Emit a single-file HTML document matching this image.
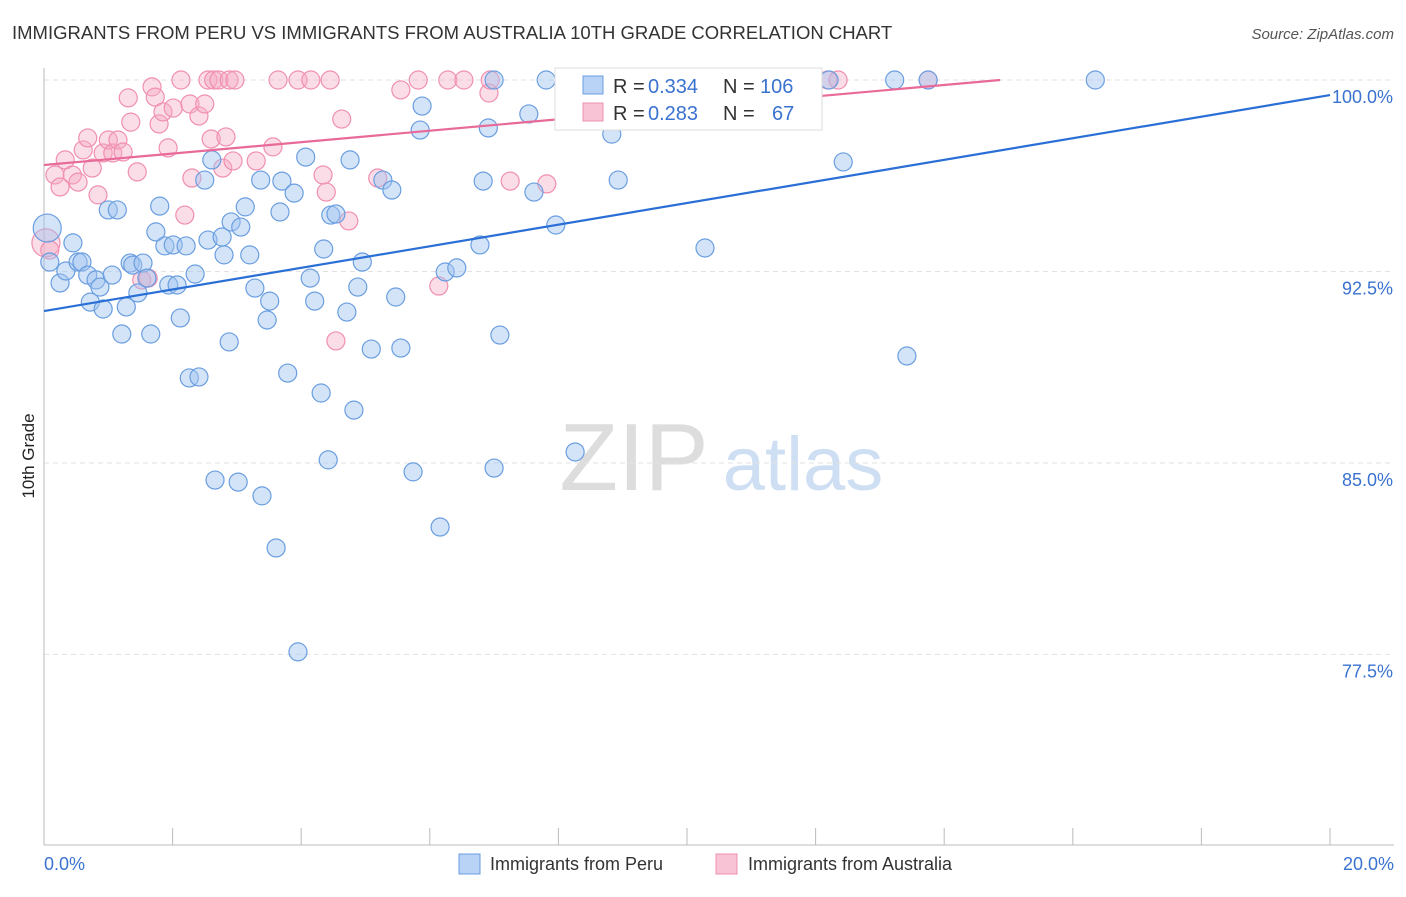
<!DOCTYPE html>
<html><head><meta charset="utf-8"><style>
body{margin:0;background:#fff;font-family:"Liberation Sans",sans-serif;}
svg text{font-family:"Liberation Sans",sans-serif;}
</style></head><body>
<svg id="chart" width="1406" height="892" xmlns="http://www.w3.org/2000/svg">
<text x="12" y="39" font-size="18.5" fill="#333">IMMIGRANTS FROM PERU VS IMMIGRANTS FROM AUSTRALIA 10TH GRADE CORRELATION CHART</text>
<text x="1394" y="39" font-size="15" fill="#555" font-style="italic" text-anchor="end">Source: ZipAtlas.com</text>
<g><text x="634" y="490" font-size="96" fill="#ddd" font-family="Liberation Serif" text-anchor="middle">ZIP</text><text x="803" y="490" font-size="76" fill="#cfdff3" text-anchor="middle">atlas</text></g>
<text transform="translate(34,456) rotate(-90)" font-size="17" fill="#222" text-anchor="middle">10th Grade</text>
<g id="grid"></g><g id="axes"></g><g id="marks"></g>
<g>
<rect x="555" y="68" width="267" height="62" fill="#fff" stroke="#ddd"/>
<rect x="583" y="76" width="20" height="18" fill="#b8d3f5" stroke="#6a9ee0"/>
<rect x="583" y="103" width="20" height="18" fill="#f8c3d5" stroke="#f08fb0"/>
<text x="613" y="93" font-size="20" fill="#333">R =</text>
<text x="648" y="93" font-size="20" fill="#3a72d0">0.334</text>
<text x="723" y="93" font-size="20" fill="#333">N =</text>
<text x="760" y="93" font-size="20" fill="#3a72d0">106</text>
<text x="613" y="120" font-size="20" fill="#333">R =</text>
<text x="648" y="120" font-size="20" fill="#3a72d0">0.283</text>
<text x="723" y="120" font-size="20" fill="#333">N =</text>
<text x="772" y="120" font-size="20" fill="#3a72d0">67</text>
</g>
<g>
<rect x="459" y="854" width="21" height="20" fill="#b8d3f5" stroke="#6a9ee0"/>
<text x="490" y="870" font-size="18" fill="#333">Immigrants from Peru</text>
<rect x="716" y="854" width="21" height="20" fill="#f8c3d5" stroke="#f08fb0"/>
<text x="748" y="870" font-size="18" fill="#333">Immigrants from Australia</text>
</g>
</svg>
<script>
const yTicks=[100,92.5,85,77.5];
const yTickLabels=["100.0%","92.5%","85.0%","77.5%"];
const xTickLabels=["0.0%","20.0%"];
const peruX=[0.05,0.09,0.25,0.45,0.34,0.53,0.59,0.68,0.72,0.81,0.87,0.92,1.0,1.14,1.06,1.21,1.28,1.34,1.38,1.46,1.54,1.6,1.66,1.74,1.8,1.88,1.94,2.01,2.07,2.12,2.21,2.26,2.41,2.35,2.5,2.55,2.61,2.66,2.77,2.8,2.88,2.91,3.02,3.06,3.13,3.2,3.28,3.39,3.37,3.47,3.51,3.61,3.67,3.7,3.79,3.89,3.95,4.07,4.14,4.21,4.31,4.35,4.42,4.46,4.54,4.71,4.76,4.82,4.88,4.95,5.09,5.27,5.41,5.47,5.55,5.74,5.85,5.88,6.16,6.24,6.42,6.78,6.83,6.91,7.0,7.0,7.09,7.54,7.62,7.81,7.96,8.26,8.83,8.93,10.28,12.43,13.23,13.42,13.75,16.35,8.18,12.21];
const peruY=[94.2,92.87,92.05,93.62,92.52,92.87,92.87,92.36,91.3,92.17,91.89,91.03,94.91,94.91,92.36,90.05,91.11,92.83,92.75,91.66,92.83,92.24,90.05,94.05,95.06,93.5,91.97,93.54,91.97,90.68,93.5,88.33,88.37,92.4,96.08,93.73,96.87,84.33,93.85,93.15,89.74,94.44,84.25,94.24,95.03,93.15,91.85,83.71,96.08,90.6,91.34,81.67,94.83,96.04,88.52,95.57,77.6,96.98,92.24,91.34,87.74,93.38,85.12,94.71,94.75,90.91,96.87,87.07,91.89,92.87,89.46,96.08,95.69,91.5,89.5,84.65,98.04,98.98,82.49,92.48,92.64,93.54,96.04,98.12,100,84.8,90.01,98.67,95.61,100,94.32,85.43,97.88,96.08,93.42,96.79,100,89.19,100,100,99.22,100];
const ausX=[0.03,0.09,0.17,0.25,0.33,0.44,0.53,0.61,0.68,0.75,0.84,0.92,1.0,1.07,1.15,1.23,1.31,1.35,1.45,1.52,1.62,1.68,1.73,1.79,1.85,1.93,2.01,2.13,2.19,2.27,2.3,2.41,2.5,2.55,2.6,2.64,2.72,2.78,2.83,2.88,2.94,2.97,3.3,3.56,3.64,3.95,4.15,4.34,4.39,4.45,4.63,4.74,4.54,5.19,5.55,5.82,6.14,6.28,6.53,6.92,6.94,7.25,7.82,12.19,12.35,13.75,8.65];
const ausY=[93.62,93.34,96.28,95.81,96.87,96.28,96.0,97.26,97.73,96.55,95.5,97.14,97.65,97.14,97.65,97.18,99.3,98.35,96.4,92.17,92.24,99.73,99.33,98.28,98.75,97.34,98.9,100,94.71,99.06,96.16,98.59,99.06,100,97.69,100,100,96.55,97.77,100,96.83,100,96.83,97.38,100,100,100,96.28,95.61,100,98.47,94.48,89.78,96.16,99.61,100,91.93,100,100,99.49,100,96.04,95.93,100,100,100,100];
const peruTrend=[0,90.95,20,99.41];
const ausTrend=[0,96.67,14.87,100];
const NS="http://www.w3.org/2000/svg";
const X=v=>44+v*64.3, Y=v=>80+(100-v)*25.53;
function mk(t,a,p){const e=document.createElementNS(NS,t);for(const k in a)e.setAttribute(k,a[k]);p.appendChild(e);return e;}
const grid=document.getElementById('grid'),axes=document.getElementById('axes'),marks=document.getElementById('marks');
yTicks.forEach((t,i)=>{
 const l=mk('line',{x1:44,x2:1394,y1:Y(t),y2:Y(t),stroke:'#e2e2e2','stroke-dasharray':'5,4'},grid);
 
 
 const tx=mk('text',{x:1393,y:Y(t)+23,'font-size':18,fill:'#3a72d0','text-anchor':'end'},grid);
 tx.textContent=yTickLabels[i];
 
 
});
mk('line',{x1:44,x2:44,y1:68,y2:845,stroke:'#bbb'},axes);
mk('line',{x1:44,x2:1394,y1:845,y2:845,stroke:'#bbb'},axes);
for(let i=1;i<=10;i++){const tk=mk('line',{x1:X(i*2),x2:X(i*2),y1:828,y2:845,stroke:'#bbb'},axes);
 
 }
[[0,'start',44],[1,'end',1394]].forEach(([i,a,x])=>{const t=mk('text',{x:x,y:870,'font-size':18,fill:'#3a72d0','text-anchor':a},axes);t.textContent=xTickLabels[i];
 
 });
function pts(xs,ys,fill,stroke,name){xs.forEach((x,i)=>{const c=mk('circle',{cx:X(x),cy:Y(ys[i]),r:i==0?14:9,fill:fill,stroke:stroke,'stroke-width':1.2},marks);
 
 });}
pts(ausX,ausY,'rgba(245,170,195,0.4)','#f08fb0','point-australia');
pts(peruX,peruY,'rgba(160,195,240,0.45)','#6a9ee0','point-peru');
const l1=mk('line',{x1:X(peruTrend[0]),y1:Y(peruTrend[1]),x2:X(peruTrend[2]),y2:Y(peruTrend[3]),stroke:'#2a6fd6','stroke-width':2.2},marks);


const l2=mk('line',{x1:X(ausTrend[0]),y1:Y(ausTrend[1]),x2:X(ausTrend[2]),y2:Y(ausTrend[3]),stroke:'#e86a98','stroke-width':2.2},marks);


</script>
</body></html>
